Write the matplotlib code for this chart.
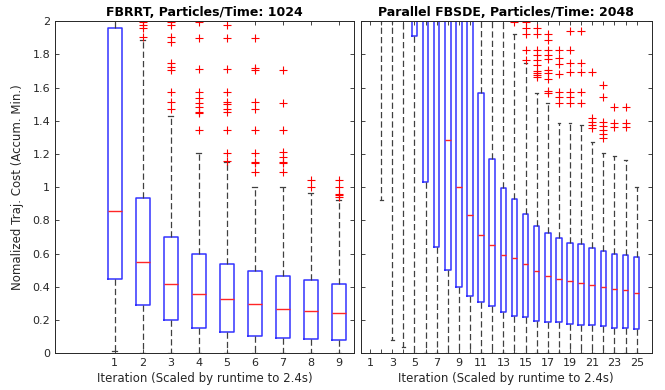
import matplotlib
matplotlib.use('Agg')
import matplotlib.pyplot as plt

# ---------------- data ----------------
# Left panel: FBRRT, Particles/Time: 1024
fb_pos = [1, 2, 3, 4, 5, 6, 7, 8, 9]
fb_whislo = [0.016, 0, 0, 0, 0, 0, 0, 0, 0]
fb_q1 = [0.445, 0.293, 0.198, 0.152, 0.130, 0.106, 0.094, 0.086, 0.082]
fb_med = [0.858, 0.551, 0.417, 0.355, 0.325, 0.297, 0.268, 0.256, 0.241]
fb_q3 = [1.960, 0.933, 0.702, 0.598, 0.539, 0.497, 0.465, 0.441, 0.419]
fb_whishi = [2.2, 1.886, 1.428, 1.207, 1.150, 0.999, 1.000, 0.963, 0.925]
fb_fliers = [
    [],
    [1.996, 1.976, 1.956, 1.906],
    [1.996, 1.976, 1.906, 1.876, 1.745, 1.725, 1.705, 1.570, 1.514, 1.468],
    [1.996, 1.900, 1.710, 1.570, 1.535, 1.505, 1.480, 1.455, 1.445, 1.346],
    [1.976, 1.900, 1.710, 1.570, 1.514, 1.500, 1.468, 1.455, 1.346, 1.207, 1.160],
    [1.900, 1.715, 1.705, 1.514, 1.468, 1.346, 1.207, 1.153, 1.145, 1.090],
    [1.705, 1.508, 1.346, 1.213, 1.183, 1.153, 1.145, 1.090],
    [1.043, 1.000],
    [1.043, 1.000, 0.960, 0.950, 0.940],
]

# Right panel: Parallel FBSDE, Particles/Time: 2048
pf_pos = list(range(1, 26))
pf_whislo = [2.3, 0.92, 0.08, 0.04, 0, 0, 0, 0, 0, 0, 0, 0, 0, 0, 0, 0, 0, 0, 0, 0, 0, 0, 0, 0, 0]
pf_q1 = [2.6, 2.3, 2.2, 2.1, 1.91, 1.033, 0.638, 0.500, 0.397, 0.345, 0.309, 0.283, 0.247,
         0.226, 0.217, 0.194, 0.190, 0.186, 0.178, 0.172, 0.172, 0.166, 0.154, 0.150, 0.144]
pf_med = [3.0, 2.8, 2.7, 2.6, 2.3, 2.2, 2.1, 1.284, 1.003, 0.834, 0.714, 0.650, 0.590,
          0.572, 0.536, 0.497, 0.467, 0.449, 0.437, 0.423, 0.409, 0.401, 0.385, 0.383, 0.365]
pf_q3 = [3.5, 3.3, 3.2, 3.1, 2.8, 2.7, 2.6, 2.5, 2.4, 2.2, 1.568, 1.168, 0.997,
         0.929, 0.837, 0.764, 0.722, 0.696, 0.662, 0.658, 0.636, 0.618, 0.598, 0.590, 0.581]
pf_whishi = [4.0, 4.0, 4.0, 4.0, 3.5, 3.4, 3.3, 3.2, 3.1, 3.0, 2.8, 2.4, 2.1,
             1.925, 1.750, 1.565, 1.505, 1.384, 1.384, 1.375, 1.270, 1.207, 1.190, 1.165, 1.000]
pf_fliers = [
    [], [], [], [], [], [], [], [], [], [], [], [], [],
    [1.996],
    [1.996, 1.956, 1.920, 1.825, 1.765],
    [1.956, 1.920, 1.825, 1.795, 1.765, 1.735, 1.700, 1.690, 1.675, 1.665],
    [1.920, 1.886, 1.825, 1.795, 1.769, 1.705, 1.685, 1.649, 1.580, 1.568],
    [1.827, 1.779, 1.739, 1.681, 1.575, 1.545, 1.509],
    [1.942, 1.827, 1.745, 1.695, 1.575, 1.545, 1.509],
    [1.942, 1.745, 1.695, 1.575, 1.509],
    [1.695, 1.414, 1.394, 1.374, 1.354],
    [1.615, 1.545, 1.394, 1.368, 1.344, 1.320, 1.294],
    [1.480, 1.384, 1.360],
    [1.480, 1.384, 1.360],
    [],
]

y_ticks = [0, 0.2, 0.4, 0.6, 0.8, 1.0, 1.2, 1.4, 1.6, 1.8, 2.0]
y_ticklabels = ['0', '0.2', '0.4', '0.6', '0.8', '1', '1.2', '1.4', '1.6', '1.8', '2']
fb_title = 'FBRRT, Particles/Time: 1024'
pf_title = 'Parallel FBSDE, Particles/Time: 2048'
x_label = 'Iteration (Scaled by runtime to 2.4s)'
y_label = 'Nomalized Traj. Cost (Accum. Min.)'

# ---------------- drawing ----------------
plt.rcParams['font.family'] = ['DejaVu Sans']
TXT = '#262626'

fig = plt.figure(figsize=(6.65, 3.9), dpi=100)
axL = fig.add_axes([0.0827, 0.0941, 0.4496, 0.8519])
axR = fig.add_axes([0.5424, 0.0941, 0.4376, 0.8519])


def make_stats(pos, wl, q1, med, q3, wh, fl):
    out = []
    for i in range(len(pos)):
        out.append(dict(whislo=wl[i], q1=q1[i], med=med[i], q3=q3[i],
                        whishi=wh[i], fliers=fl[i]))
    return out


def draw(ax, stats, pos, width, capw):
    ax.bxp(stats, positions=pos, widths=width, capwidths=capw,
           showfliers=True, manage_ticks=False,
           boxprops=dict(color=(0.2, 0.2, 1.0), linewidth=1.1),
           medianprops=dict(color=(1.0, 0.15, 0.15), linewidth=1.0),
           whiskerprops=dict(color='0.25', linewidth=0.9, linestyle=(0, (5, 2.5))),
           capprops=dict(color='0.25', linewidth=0.9),
           flierprops=dict(marker='+', markeredgecolor='red', markersize=5.5,
                           markeredgewidth=0.8, linestyle='none'))


draw(axL, make_stats(fb_pos, fb_whislo, fb_q1, fb_med, fb_q3, fb_whishi, fb_fliers),
     fb_pos, 0.5, 0.2)
draw(axR, make_stats(pf_pos, pf_whislo, pf_q1, pf_med, pf_q3, pf_whishi, pf_fliers),
     pf_pos, 0.5, 0.25)

axL.set_xlim(-1.13, 9.55)
axR.set_xlim(0.16, 26.35)
for ax in (axL, axR):
    ax.set_ylim(0, 2)
    ax.set_yticks(y_ticks)
    ax.tick_params(direction='in', length=3, width=0.6, colors=TXT,
                   top=True, right=True, labelsize=8)
    for s in ax.spines.values():
        s.set_color(TXT)
        s.set_linewidth(0.7)
    ax.set_xlabel(x_label, fontsize=8.5, color=TXT, labelpad=3)

axL.set_yticklabels(y_ticklabels)
axL.set_xticks(fb_pos)
axL.set_xticklabels([str(p) for p in fb_pos])
axL.set_ylabel(y_label, fontsize=8.5, color=TXT, labelpad=6)
axR.set_yticklabels([])
axR.set_xticks(pf_pos)
axR.set_xticklabels([str(p) if p % 2 == 1 else '' for p in pf_pos])

axL.set_title(fb_title, fontsize=9, fontweight='bold', color='black', pad=4)
axR.set_title(pf_title, fontsize=9, fontweight='bold', color='black', pad=4)

fig.savefig('out.png', dpi=100, facecolor='white')
